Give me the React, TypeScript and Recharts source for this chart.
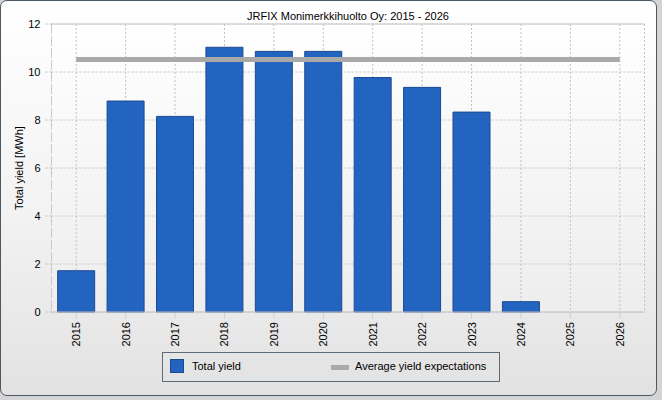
import React from 'react';
import { ComposedChart, Bar, Line, XAxis, YAxis, CartesianGrid, ReferenceLine } from 'recharts';

const years = ['2015', '2016', '2017', '2018', '2019', '2020', '2021', '2022', '2023', '2024', '2025', '2026'];
const totalYield: (number | null)[] = [1.72, 8.79, 8.15, 11.03, 10.86, 10.86, 9.77, 9.36, 8.33, 0.43, null, null];
const avgYield = [10.52, 10.52, 10.52, 10.52, 10.52, 10.52, 10.52, 10.52, 10.52, 10.52, 10.52, 10.52];
const yTicks = [0, 2, 4, 6, 8, 10, 12];

const data = years.map((y, i) => ({ year: y, total: totalYield[i], avg: avgYield[i] }));

const FONT = '"Liberation Sans", Arial, sans-serif';

const XTick = (props: any) => {
  const { x, y, payload } = props;
  return (
    <text
      x={x}
      y={y}
      transform={`rotate(-90, ${x}, ${y})`}
      textAnchor="end"
      dominantBaseline="central"
      fontSize={11}
      fontFamily={FONT}
      fill="#000"
    >
      {payload.value}
    </text>
  );
};

const YLabel = (props: any) => {
  const vb = props.viewBox || { x: 0, y: 24, width: 51.5, height: 288 };
  const cx = vb.x + 19;
  const cy = vb.y + vb.height / 2;
  return (
    <text
      x={cx}
      y={cy}
      transform={`rotate(-90, ${cx}, ${cy})`}
      textAnchor="middle"
      dominantBaseline="central"
      fontSize={11}
      fontFamily={FONT}
      fill="#000"
    >
      Total yield [MWh]
    </text>
  );
};

export default function App() {
  return (
    <div style={{ position: 'absolute', left: 0, top: 0, width: 662, height: 400, background: '#d4d4d4', fontFamily: FONT }}>
      <div
        style={{
          position: 'absolute',
          left: 0,
          top: 0,
          width: 655,
          height: 394,
          border: '1.5px solid #4c5864',
          borderRadius: 7,
          background: 'linear-gradient(to bottom, #ffffff 0%, #f2f2f2 55%, #e2e2e2 100%)',
        }}
      />
      <div
        style={{
          position: 'absolute',
          left: 51.5,
          width: 593,
          top: 9,
          textAlign: 'center',
          fontSize: 11,
          color: '#000',
          lineHeight: '14px',
        }}
      >
        JRFIX Monimerkkihuolto Oy: 2015 - 2026
      </div>
      <div style={{ position: 'absolute', left: 0, top: 0 }}>
        <ComposedChart width={662} height={400} data={data} margin={{ top: 24, right: 17.5, bottom: 48, left: 0 }} barCategoryGap="12.5%">
          <defs>
            <linearGradient id="plotGrad" x1="0" y1="0" x2="0" y2="1">
              <stop offset="0%" stopColor="#ffffff" />
              <stop offset="100%" stopColor="#ededed" />
            </linearGradient>
          </defs>
          <CartesianGrid stroke="#c2c2c2" strokeDasharray="2 2" fill="url(#plotGrad)" fillOpacity={1} />
          <XAxis
            dataKey="year"
            height={40}
            interval={0}
            tickSize={6}
            tickMargin={4}
            axisLine={{ stroke: '#c4c4c4' }}
            tickLine={{ stroke: '#b8b8b8', strokeDasharray: '1 1' }}
            tick={<XTick />}
          />
          <YAxis
            width={51.5}
            domain={[0, 12]}
            ticks={yTicks}
            interval={0}
            tickSize={6}
            tickMargin={5}
            axisLine={{ stroke: '#cccccc', strokeDasharray: '4 2' }}
            tickLine={{ stroke: '#b8b8b8', strokeDasharray: '2 2' }}
            tick={{ fontSize: 11, fill: '#000', fontFamily: FONT }}
            label={<YLabel />}
          />
          <YAxis
            yAxisId="right"
            orientation="right"
            width={0}
            domain={[0, 12]}
            tick={false}
            tickLine={false}
            axisLine={{ stroke: '#cccccc', strokeDasharray: '4 2' }}
          />
          <ReferenceLine y={12} stroke="#c8c8c8" strokeWidth={1} />
          <Line
            dataKey="avg"
            stroke="#a9a9a9"
            strokeWidth={5}
            dot={false}
            activeDot={false}
            type="linear"
            isAnimationActive={false}
          />
          <Bar dataKey="total" fill="#2464c1" stroke="#1c4a92" strokeWidth={1} isAnimationActive={false} />
        </ComposedChart>
      </div>
      <div
        style={{
          position: 'absolute',
          left: 162,
          top: 352,
          width: 336,
          height: 28,
          border: '1px solid #5e6a76',
        }}
      >
        <div style={{ position: 'absolute', left: 7, top: 6, width: 12, height: 12, background: '#2464c1', border: '1px solid #1c4a92' }} />
        <div style={{ position: 'absolute', left: 29, top: 6, fontSize: 11, lineHeight: '14px', color: '#000' }}>Total yield</div>
        <div style={{ position: 'absolute', left: 168, top: 11.5, width: 18, height: 5, background: '#a9a9a9' }} />
        <div style={{ position: 'absolute', left: 192, top: 6, fontSize: 11, lineHeight: '14px', color: '#000' }}>Average yield expectations</div>
      </div>
    </div>
  );
}
